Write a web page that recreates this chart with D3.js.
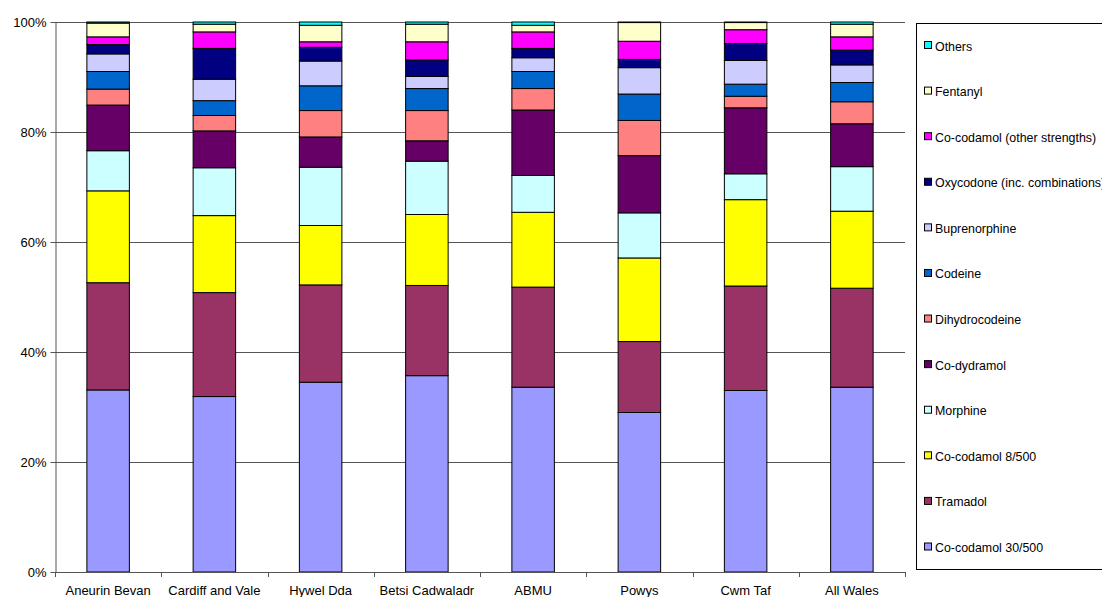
<!DOCTYPE html>
<html>
<head>
<meta charset="utf-8">
<script src="https://cdn.jsdelivr.net/npm/d3@7"></script>
<style>
  html, body { margin: 0; padding: 0; background: #fff; }
  svg { display: block; font-family: Arial, "Liberation Sans", sans-serif; }
</style>
</head>
<body>
<svg id="chart" width="1102" height="597"></svg>
<script>
// ---- data ----
const categories = ["Aneurin Bevan", "Cardiff and Vale", "Hywel Dda", "Betsi Cadwaladr", "ABMU", "Powys", "Cwm Taf", "All Wales"];
const seriesNames = ["Co-codamol 30/500", "Tramadol", "Co-codamol 8/500", "Morphine", "Co-dydramol", "Dihydrocodeine", "Codeine", "Buprenorphine", "Oxycodone (inc. combinations)", "Co-codamol (other strengths)", "Fentanyl", "Others"];
const cocodamol30 = [33.1, 31.9, 34.5, 35.7, 33.6, 29.0, 33.0, 33.6];
const tramadol    = [19.5, 18.9, 17.7, 16.4, 18.2, 12.9, 19.0, 18.0];
const cocodamol8  = [16.7, 14.0, 10.8, 12.9, 13.6, 15.2, 15.7, 14.0];
const morphine    = [7.3, 8.7, 10.6, 9.7, 6.7, 8.2, 4.7, 8.1];
const codydramol  = [8.3, 6.7, 5.5, 3.7, 11.9, 10.4, 12.0, 7.8];
const dihydrocod  = [2.9, 2.8, 4.8, 5.5, 3.9, 6.4, 2.1, 4.0];
const codeine     = [3.2, 2.7, 4.5, 4.0, 3.1, 4.8, 2.2, 3.5];
const bupren      = [3.2, 3.9, 4.5, 2.2, 2.5, 4.8, 4.3, 3.2];
const oxycodone   = [1.7, 5.6, 2.5, 3.0, 1.7, 1.5, 3.1, 2.7];
const cocodOther  = [1.4, 3.0, 1.0, 3.3, 3.0, 3.3, 2.5, 2.4];
const fentanyl    = [2.5, 1.4, 3.0, 3.2, 1.2, 3.4, 1.3, 2.3];
const others      = [0.2, 0.4, 0.6, 0.4, 0.6, 0.1, 0.1, 0.4];
const yTicks = [0, 20, 40, 60, 80, 100];

const seriesValues = [cocodamol30, tramadol, cocodamol8, morphine, codydramol, dihydrocod, codeine, bupren, oxycodone, cocodOther, fentanyl, others];
const colors = ["#9999FF", "#993366", "#FFFF00", "#CCFFFF", "#660066", "#FF8080", "#0066CC", "#CCCCFF", "#000080", "#FF00FF", "#FFFFCC", "#00FFFF"];

// ---- layout ----
const svg = d3.select("#chart");
const plotLeft = 55, plotRight = 905, plotTop = 22, plotBottom = 572;

const x = d3.scaleBand().domain(categories).range([plotLeft, plotRight]).paddingInner(0.6).paddingOuter(0.3);
const y = d3.scaleLinear().domain([0, 100]).range([plotBottom, plotTop]);

// table for stack
const table = categories.map((c, i) => {
  const row = { cat: c };
  seriesNames.forEach((s, j) => { row[s] = seriesValues[j][i]; });
  return row;
});
const stack = d3.stack().keys(seriesNames).offset(d3.stackOffsetExpand)(table);

// gridlines
svg.append("g")
  .selectAll("line").data(yTicks.filter(t => t > 0)).join("line")
  .attr("x1", plotLeft).attr("x2", plotRight)
  .attr("y1", d => Math.round(y(d)) + 0.5).attr("y2", d => Math.round(y(d)) + 0.5)
  .attr("stroke", "#555").attr("stroke-width", 1);

// y axis
const yAxis = svg.append("g").attr("transform", `translate(${plotLeft + 0.5},0)`)
  .call(d3.axisLeft(y).tickValues(yTicks).tickFormat(d => d + "%").tickSize(5).tickSizeOuter(0));
yAxis.select(".domain").attr("stroke", "#555");
yAxis.selectAll(".tick line").attr("stroke", "#555");
yAxis.selectAll(".tick text").attr("font-size", 13).attr("fill", "#000").attr("x", -9)
  .attr("font-family", "Arial, 'Liberation Sans', sans-serif");

// bars
svg.append("g").selectAll("g").data(stack).join("g")
  .attr("fill", (d, i) => colors[i])
  .selectAll("rect").data(d => d).join("rect")
  .attr("x", d => x(d.data.cat))
  .attr("width", x.bandwidth())
  .attr("y", d => y(d[1] * 100))
  .attr("height", d => y(d[0] * 100) - y(d[1] * 100))
  .attr("stroke", "#000").attr("stroke-width", 1);

// x axis
const xg = svg.append("g");
xg.append("line").attr("x1", plotLeft).attr("x2", plotRight)
  .attr("y1", plotBottom + 0.5).attr("y2", plotBottom + 0.5).attr("stroke", "#555");
const step = x.step();
const boundaries = d3.range(categories.length + 1).map(i => plotLeft + i * step);
xg.selectAll("line.tk").data(boundaries).join("line").attr("class", "tk")
  .attr("x1", d => Math.round(d) + 0.5).attr("x2", d => Math.round(d) + 0.5)
  .attr("y1", plotBottom).attr("y2", plotBottom + 5).attr("stroke", "#555");
xg.selectAll("text").data(categories).join("text")
  .attr("x", d => x(d) + x.bandwidth() / 2)
  .attr("y", 595)
  .attr("text-anchor", "middle")
  .attr("font-size", 13)
  .text(d => d);

// legend
const lg = svg.append("g");
lg.append("rect").attr("x", 916.5).attr("y", 23.5).attr("width", 200).attr("height", 546)
  .attr("fill", "#fff").attr("stroke", "#000");
const legendOrder = seriesNames.map((s, i) => ({ s, c: colors[i] })).reverse();
const ly = d3.scalePoint().domain(legendOrder.map(d => d.s)).range([46, 547.5]);
const items = lg.selectAll("g").data(legendOrder).join("g")
  .attr("transform", d => `translate(0,${ly(d.s)})`);
items.append("rect").attr("x", 924.5).attr("y", -4.5).attr("width", 7).attr("height", 7)
  .attr("fill", d => d.c).attr("stroke", "#000");
items.append("text").attr("x", 935).attr("y", 4.5).attr("font-size", 12.4).text(d => d.s);
</script>
</body>
</html>
